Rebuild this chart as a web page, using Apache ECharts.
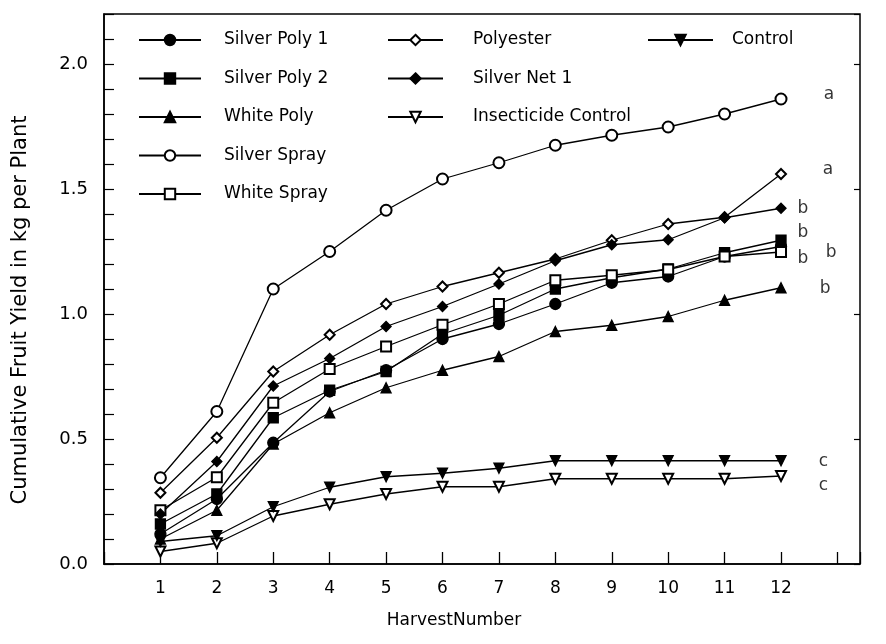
<!DOCTYPE html>
<html>
<head>
<meta charset="utf-8">
<script src="https://cdn.jsdelivr.net/npm/echarts@6/dist/echarts.min.js"></script>
<style>
html,body{margin:0;padding:0;background:#fff;}
#c{width:886px;height:644px;}
</style>
</head>
<body>
<div id="c"></div>
<script>
// ---- data ----
const harvest = [1, 2, 3, 4, 5, 6, 7, 8, 9, 10, 11, 12];
const silverPoly1 = [0.12, 0.26, 0.485, 0.69, 0.775, 0.90, 0.96, 1.04, 1.125, 1.15, 1.23, 1.27];
const silverPoly2 = [0.16, 0.28, 0.585, 0.695, 0.77, 0.92, 0.995, 1.10, 1.145, 1.18, 1.245, 1.295];
const whitePoly = [0.10, 0.215, 0.48, 0.605, 0.705, 0.775, 0.83, 0.93, 0.955, 0.99, 1.055, 1.105];
const silverSpray = [0.345, 0.61, 1.10, 1.25, 1.415, 1.54, 1.605, 1.675, 1.715, 1.748, 1.80, 1.86];
const whiteSpray = [0.215, 0.347, 0.645, 0.78, 0.87, 0.957, 1.04, 1.135, 1.155, 1.178, 1.23, 1.248];
const polyester = [0.285, 0.505, 0.77, 0.917, 1.04, 1.11, 1.165, 1.22, 1.295, 1.36, 1.387, 1.56];
const silverNet1 = [0.20, 0.41, 0.712, 0.822, 0.95, 1.03, 1.12, 1.213, 1.277, 1.297, 1.385, 1.423];
const control = [0.09, 0.113, 0.229, 0.307, 0.349, 0.363, 0.383, 0.413, 0.413, 0.413, 0.413, 0.413];
const insecticideControl = [0.05, 0.083, 0.192, 0.239, 0.28, 0.309, 0.309, 0.341, 0.341, 0.341, 0.341, 0.352];
const yTickLabels = ['0.0', '0.5', '1.0', '1.5', '2.0'];
// significance letters: [letter, harvest position, yield]
const sigLetters = [
  ['a', 12.85, 1.876],
  ['a', 12.83, 1.576],
  ['b', 12.39, 1.42],
  ['b', 12.39, 1.324],
  ['b', 12.89, 1.244],
  ['b', 12.39, 1.22],
  ['b', 12.78, 1.10],
  ['c', 12.75, 0.408],
  ['c', 12.75, 0.312]
];

const seriesDefs = [
  {name: 'Silver Poly 1', data: silverPoly1, symbol: 'circle', size: 11, rot: 0},
  {name: 'Silver Poly 2', data: silverPoly2, symbol: 'rect', size: 10, rot: 0},
  {name: 'White Poly', data: whitePoly, symbol: 'triangle', size: 10, rot: 0},
  {name: 'Silver Spray', data: silverSpray, symbol: 'emptyCircle', size: 11, rot: 0},
  {name: 'White Spray', data: whiteSpray, symbol: 'emptyRect', size: 10, rot: 0},
  {name: 'Polyester', data: polyester, symbol: 'emptyDiamond', size: 10, rot: 0},
  {name: 'Silver Net 1', data: silverNet1, symbol: 'diamond', size: 10, rot: 0},
  {name: 'Insecticide Control', data: insecticideControl, symbol: 'emptyTriangle', size: 10, rot: 180},
  {name: 'Control', data: control, symbol: 'triangle', size: 10, rot: 180}
];

const FONT = 'DejaVu Sans';

const series = seriesDefs.map(d => ({
  name: d.name,
  type: 'line',
  data: d.data.map((v, i) => [harvest[i], v]),
  symbol: d.symbol,
  symbolSize: d.size,
  symbolRotate: d.rot,
  showAllSymbol: true,
  color: '#000',
  lineStyle: {color: '#000', width: 1.3},
  itemStyle: {color: '#000', borderColor: '#000', borderWidth: 1.3},
  emphasis: {disabled: true},
  animation: false,
  z: 3
}));

series.push({
  name: 'letters',
  type: 'scatter',
  data: sigLetters.map(s => ({name: s[0], value: [s[1], s[2]]})),
  symbolSize: 0,
  label: {show: true, position: 'inside', formatter: p => p.name, color: '#000', fontFamily: FONT, fontSize: 17},
  silent: true,
  animation: false
});
// right-side ticks
series.push({
  name: 'rightAxisDummy', type: 'line', data: [], yAxisIndex: 1
});

function legendBlock(names, left, itemWidth, gapPad) {
  return {
    data: names,
    orient: 'vertical',
    left: left,
    top: 30,
    padding: 0,
    itemWidth: itemWidth,
    itemHeight: 13,
    itemGap: 18.5,
    selectedMode: false,
    textStyle: {fontFamily: FONT, fontSize: 17, color: '#000', lineHeight: 20, padding: [0, 0, 0, gapPad]}
  };
}

const chart = echarts.init(document.getElementById('c'), null, {renderer: 'canvas'});
chart.setOption({
  backgroundColor: '#fff',
  animation: false,
  grid: {left: 104, right: 26, top: 14, bottom: 80, show: true, borderColor: '#000', borderWidth: 1.5, backgroundColor: 'transparent'},
  legend: [
    legendBlock(['Silver Poly 1', 'Silver Poly 2', 'White Poly', 'Silver Spray', 'White Spray'], 138, 62, 18),
    legendBlock(['Polyester', 'Silver Net 1', 'Insecticide Control'], 387, 55, 25),
    legendBlock(['Control'], 647, 65, 14)
  ],
  xAxis: {
    type: 'value', min: 0, max: 13.4, interval: 1,
    axisLine: {show: true, lineStyle: {color: '#000', width: 1.5}},
    axisTick: {show: true, inside: true, length: 12, lineStyle: {color: '#000', width: 1.3}},
    axisLabel: {
      margin: 16, color: '#000', fontFamily: FONT, fontSize: 17,
      formatter: v => (v >= 1 && v <= 12 && Math.abs(v - Math.round(v)) < 1e-6) ? String(harvest[Math.round(v) - 1]) : ''
    },
    splitLine: {show: false},
    name: 'HarvestNumber', nameLocation: 'middle', nameGap: 48,
    nameTextStyle: {color: '#000', fontFamily: FONT, fontSize: 17, padding: [0, 56, 0, 0]}
  },
  yAxis: [{
    type: 'value', min: 0, max: 2.2, interval: 0.1,
    axisLine: {show: true, lineStyle: {color: '#000', width: 1.5}},
    axisTick: {show: true, inside: true, length: 10, lineStyle: {color: '#000', width: 1.2}},
    axisLabel: {
      margin: 16, color: '#000', fontFamily: FONT, fontSize: 18,
      formatter: v => {
        const k = Math.round(v * 10);
        if (Math.abs(v * 10 - k) > 1e-6 || k % 5 !== 0 || k > 20) return '';
        return yTickLabels[k / 5];
      }
    },
    splitLine: {show: false}
  }, {
    type: 'value', min: 0, max: 2.2, interval: 0.5, position: 'right',
    axisLine: {show: false},
    axisTick: {show: true, inside: true, length: 6, lineStyle: {color: '#000', width: 1.2}},
    axisLabel: {show: false},
    splitLine: {show: false}
  }],
  graphic: [{
    type: 'text',
    x: 21, y: 310,
    rotation: Math.PI / 2,
    style: {
      text: 'Cumulative Fruit Yield in kg per Plant',
      fill: '#000',
      font: '21px "DejaVu Sans"',
      textAlign: 'center',
      textVerticalAlign: 'middle'
    }
  }],
  series: series
});
</script>
</body>
</html>
